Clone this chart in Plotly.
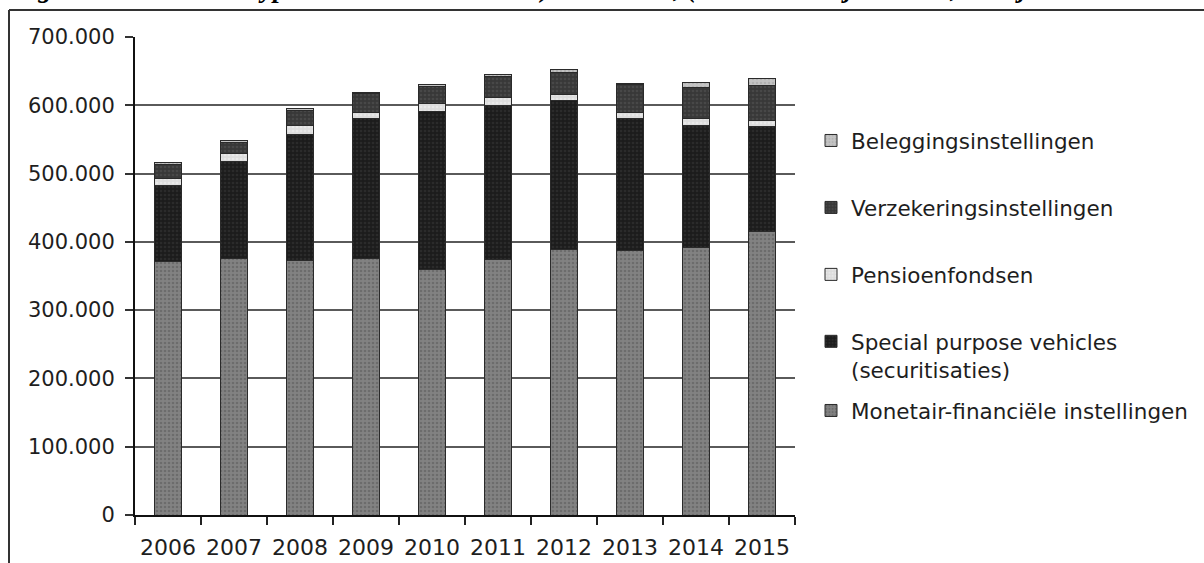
import plotly.graph_objects as go

# Outstanding mortgage holdings by type of holder, end of year (x € million)
years = ["2006", "2007", "2008", "2009", "2010", "2011", "2012", "2013", "2014", "2015"]
monetair = [370600, 375500, 373000, 375500, 359400, 374000, 389000, 388000, 392000, 415000]
spv = [112200, 142900, 184400, 204900, 230800, 225900, 218200, 193300, 178600, 154100]
pensioen = [9800, 10800, 13200, 9600, 12200, 11200, 8300, 8700, 9800, 8800]
verzekering = [20900, 16500, 21900, 27000, 25300, 31200, 33100, 40100, 45400, 51200]
belegging = [3400, 2900, 2500, 2300, 2900, 2900, 3400, 2400, 8200, 10700]

series_names = [
    "Monetair-financiële instellingen",
    "Special purpose vehicles<br>(securitisaties)",
    "Pensioenfondsen",
    "Verzekeringsinstellingen",
    "Beleggingsinstellingen",
]
series_values = [monetair, spv, pensioen, verzekering, belegging]
fills = ["#828282", "#1c1c1c", "#dcdcdc", "#383838", "#c4c4c4"]
grain = ["#555555", "#3a3a3a", "#f4f4f4", "#585858", "#a0a0a0"]
legend_ref = ["legend2", "legend", "legend", "legend", "legend"]
ranks = [5, 4, 3, 2, 1]

# plot area in pixels
W, H = 1204, 563
L, R, T, B = 135, 795, 37, 515


def px_x(p):
    return (p - L) / (R - L)


def px_y(p):
    return (B - p) / (B - T)


fig = go.Figure()
for name, vals, fc, gc, lg, rk in zip(series_names, series_values, fills, grain, legend_ref, ranks):
    fig.add_trace(go.Bar(
        x=years, y=vals, name=name, legend=lg, legendgroup=name, legendrank=rk,
        marker=dict(color=fc, line=dict(color="#2a2a2a", width=1),
                    pattern=dict(shape=".", fgcolor=gc, size=4, solidity=0.35)),
    ))

font_main = "DejaVu Sans, Verdana, sans-serif"
ink = "#1e1e1e"

fig.update_layout(
    width=W, height=H,
    margin=dict(l=L, r=W - R, t=T, b=H - B, pad=0, autoexpand=False),
    barmode="stack", bargap=0.59,
    paper_bgcolor="white", plot_bgcolor="white",
    separators=",.",
    font=dict(family=font_main, size=21, color=ink),
    showlegend=True,
    legend=dict(
        x=px_x(811), y=px_y(120), xanchor="left", yanchor="top",
        traceorder="grouped", tracegroupgap=36, valign="top",
        font=dict(family=font_main, size=21.5, color=ink),
        bgcolor="rgba(0,0,0,0)",
    ),
    legend2=dict(
        x=px_x(811), y=px_y(390), xanchor="left", yanchor="top",
        valign="top",
        font=dict(family=font_main, size=21.5, color=ink),
        bgcolor="rgba(0,0,0,0)",
    ),
    xaxis=dict(
        type="category", range=[-0.5, 9.5], automargin=False,
        showline=True, linecolor="#111", linewidth=2,
        ticks="outside", tickson="boundaries", ticklen=8, tickwidth=1.5, tickcolor="#222",
        tickfont=dict(family=font_main, size=22, color=ink),
        ticklabelstandoff=12,
        showgrid=False,
    ),
    yaxis=dict(
        range=[0, 700000], dtick=100000, tickformat=",d", automargin=False,
        showline=True, linecolor="#111", linewidth=2,
        ticks="outside", ticklen=8, tickwidth=1.5, tickcolor="#333",
        tickfont=dict(family=font_main, size=21, color=ink),
        ticklabelstandoff=6,
        showgrid=True, gridcolor="#5a5a5a", gridwidth=2,
        zeroline=False,
    ),
)

# page frame: left and top rules
fig.add_shape(type="line", xref="paper", yref="paper",
              x0=px_x(9), x1=px_x(9), y0=px_y(10), y1=px_y(H + 5),
              line=dict(color="#333", width=2))
fig.add_shape(type="line", xref="paper", yref="paper",
              x0=px_x(9), x1=px_x(W + 5), y0=px_y(10), y1=px_y(10),
              line=dict(color="#333", width=2))

# figure caption above the frame
fig.add_annotation(
    xref="paper", yref="paper", x=px_x(10), y=px_y(5),
    xanchor="left", yanchor="bottom", showarrow=False,
    text="<b><i>Figuur 4 Uitstaande hypotheken naar houder 1) Nederland, "
         "(totalen in miljoen euro, eind jaar 2006 t/m 2015)</i></b>",
    font=dict(family="Liberation Serif, serif", size=27, color="#000"),
)

fig.write_html("out.html")
